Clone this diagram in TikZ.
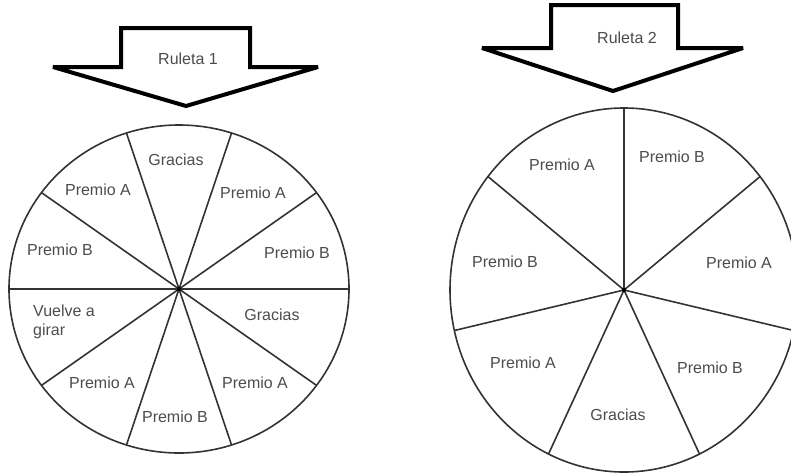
\documentclass[tikz,border=0pt]{standalone}
\usepackage{fontspec}
\setmainfont{Liberation Sans}
\usetikzlibrary{calc}

\begin{document}
\begin{tikzpicture}[x=1pt,y=-1pt]
      \tikzset { bigarrow/.style = { draw=black,line width=4pt,line join=miter,miter limit=3,fill=white } }
      \tikzset { rim/.style = { draw=black!80,line width=1.6pt } }
      \tikzset { spoke/.style = { draw=black!80,line width=1.6pt } }
      \tikzset { prize/.style = { text=black!70,font=\fontsize{16}{19}\selectfont,inner sep=0pt } }

      \useasboundingbox (0,0) rectangle (791,474);
      \clip (0,0) rectangle (791,474);

      % pointers
      \draw[bigarrow] (121,28) -- (250,28) -- (250,67) -- (318,67) -- (186,106)
                      -- (53,67) -- (121,67) -- cycle;
      \draw[bigarrow] (551,5) -- (678,5) -- (678,48) -- (743,48) -- (613,91)
                      -- (482,48) -- (551,48) -- cycle;
      \node[prize] (t1) at (188,59) {Ruleta 1};
      \node[prize] (t2) at (627,38) {Ruleta 2};

      % wheel 1
      \coordinate (c1) at (179,289);
      \draw[rim] (c1) ellipse [x radius=170,y radius=164];
      \foreach \a in {0,36,...,324}
        \draw[spoke] (c1) -- ++(\a:170 and 164);
      \fill (c1) circle (2.2);

      \node[prize] (w1a) at (176,160) {Gracias};
      \node[prize] (w1b) at (253,193) {Premio A};
      \node[prize] (w1c) at (297,253) {Premio B};
      \node[prize] (w1d) at (272,315) {Gracias};
      \node[prize] (w1e) at (255,383) {Premio A};
      \node[prize] (w1f) at (175,417) {Premio B};
      \node[prize] (w1g) at (102,383) {Premio A};
      \node[prize,anchor=west,align=left] (w1h) at (33,322) {Vuelve a\\girar};
      \node[prize] (w1i) at (60,250) {Premio B};
      \node[prize] (w1j) at (98,190) {Premio A};

      % wheel 2
      \coordinate (c2) at (624,290);
      \draw[rim] (c2) ellipse [x radius=174,y radius=182];
      \foreach \a in {-90,-38.57,12.86,64.29,115.71,167.14,218.57}
        \draw[spoke] (c2) -- ++(\a:174 and 182);
      \fill (c2) circle (2.2);

      \node[prize] (w2a) at (672,157) {Premio B};
      \node[prize] (w2b) at (739,263) {Premio A};
      \node[prize] (w2c) at (710,368) {Premio B};
      \node[prize] (w2d) at (618,415) {Gracias};
      \node[prize] (w2e) at (523,363) {Premio A};
      \node[prize] (w2f) at (505,262) {Premio B};
      \node[prize] (w2g) at (562,165) {Premio A};

    \end{tikzpicture}
\end{document}
